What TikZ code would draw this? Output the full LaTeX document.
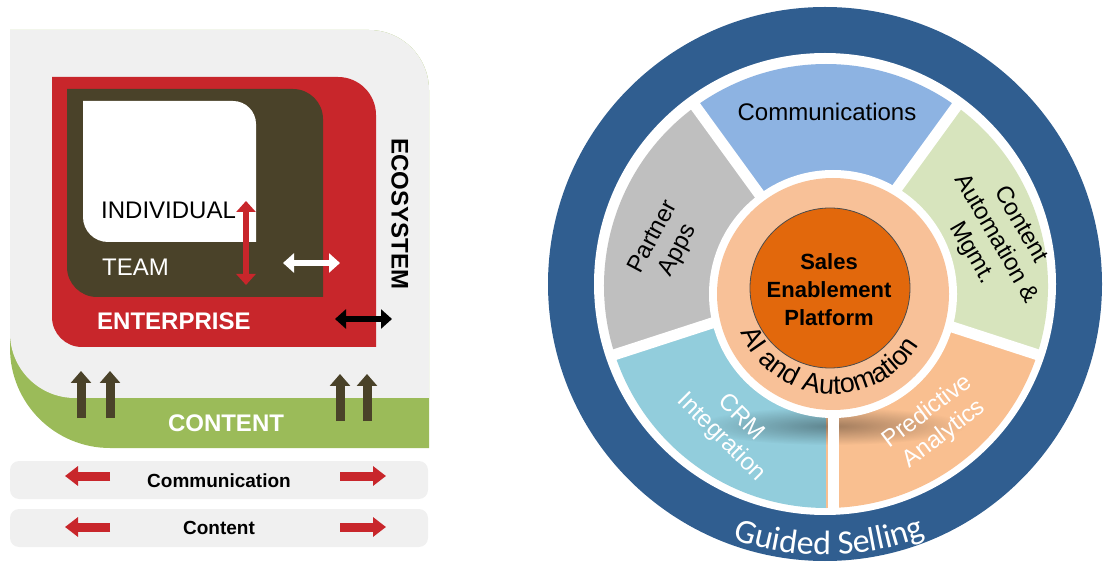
\documentclass[tikz,border=0pt]{standalone}
\usepackage{fontspec}
\setmainfont{Liberation Sans}
\newfontfamily\guidedfont{Carlito}
\usetikzlibrary{arrows.meta}
\usetikzlibrary{decorations.text}
\usetikzlibrary{fadings}
\usetikzlibrary{positioning}

\definecolor{ecogray}{HTML}{F0F0F0}
\definecolor{entred}{HTML}{C8262B}
\definecolor{teamolive}{HTML}{4A4229}
\definecolor{feedgreen}{HTML}{9BBB59}
\definecolor{ringblue}{HTML}{305E90}
\definecolor{commblue}{HTML}{8DB3E2}
\definecolor{cntgreen}{HTML}{D7E4BD}
\definecolor{predpeach}{HTML}{F9BF90}
\definecolor{crmcyan}{HTML}{92CDDC}
\definecolor{partgray}{HTML}{BFBFBF}
\definecolor{aipeach}{HTML}{F8C198}
\definecolor{coreorange}{HTML}{E2680C}

% soft shadow under the inner ring
\tikzfading[name=shadowfade,inner color=transparent!0,outer color=transparent!100]

\begin{document}
\begin{tikzpicture}[x=1pt,y=1pt,
  fatarrow/.style={line width=6pt,{Triangle[length=11pt,width=19pt]}-{Triangle[length=11pt,width=19pt]}},
  feedarrow/.style={teamolive,line width=9pt,-{Triangle[length=12pt,width=20pt]}},
  bararrow/.style={entred,line width=9pt,-{Triangle[length=13pt,width=19pt]}},
  lbl/.style={inner sep=0pt,font=\fontsize{24}{28}\selectfont},
  boldlbl/.style={inner sep=0pt,font=\fontsize{24}{28}\selectfont\bfseries},
  barlbl/.style={inner sep=0pt,font=\fontsize{19}{22}\selectfont\bfseries},
  wedgelbl/.style={inner sep=0pt,align=center,font=\fontsize{24}{28}\selectfont}]
  \useasboundingbox (0,0) rectangle (1109,571);

  % ---- left panel: ecosystem / enterprise / team / individual
  \fill[feedgreen] (10,541) -- (369,541) arc[start angle=90,end angle=0,radius=60]
    -- (429,123) -- (110,123) arc[start angle=270,end angle=180,radius=100] -- cycle;
  \fill[ecogray] (10,541) -- (369,541) arc[start angle=90,end angle=0,radius=60]
    -- (429,173) -- (75,173) arc[start angle=270,end angle=180,radius=65] -- cycle;
  \fill[entred] (52,494) -- (338,494) arc[start angle=90,end angle=0,radius=38]
    -- (376,224) -- (82,224) arc[start angle=270,end angle=180,radius=30] -- cycle;
  \fill[teamolive] (67,482) -- (293,482) arc[start angle=90,end angle=0,radius=30]
    -- (323,274) -- (97,274) arc[start angle=270,end angle=180,radius=30] -- cycle;
  \fill[white] (83,470) -- (233,470) arc[start angle=90,end angle=0,radius=23]
    -- (256,329) -- (108,329) arc[start angle=270,end angle=180,radius=25] -- cycle;

  \node[lbl,anchor=west] (indiv) at (101,361) {INDIVIDUAL};
  \node[lbl,anchor=west,text=white] (team) at (102,304) {TEAM};
  \node[boldlbl,anchor=west,text=white] (enterp) at (97,250) {ENTERPRISE};
  \node[boldlbl,rotate=-90] (ecosys) at (400,357) {ECOSYSTEM};
  \node[boldlbl,text=white] (content) at (226,148) {CONTENT};

  \coordinate (iu) at (246,370);
  \coordinate (id) at (246,286);
  \coordinate (tl) at (283,308);
  \coordinate (tr) at (340,308);
  \coordinate (el) at (335,252);
  \coordinate (er) at (392,252);
  \draw[fatarrow,entred] (id) -- (iu);
  \draw[fatarrow,white] (tl) -- (tr);
  \draw[fatarrow,black] (el) -- (er);

  % content feeding upwards
  \foreach \x/\b in {81/153,110/153,340/150,367/150}
    \draw[feedarrow] (\x,\b) -- ++(0,47);

  % ---- legend bars
  \fill[ecogray,rounded corners=9] (10,72) rectangle (428,110);
  \fill[ecogray,rounded corners=9] (10,24) rectangle (428,62);
  \node[barlbl] (comm) at (219,90) {Communication};
  \node[barlbl] (cont) at (219,43) {Content};
  \foreach \y in {95,44}{
    \draw[bararrow] (110,\y) -- (65,\y);
    \draw[bararrow] (340,\y) -- (386,\y);
  }

  % ---- right panel: sales enablement wheel
  \coordinate (hub) at (826,285);
  \fill[ringblue] (825,287) circle[radius=277];
  \fill[white] (825,287) circle[radius=231];
  \begin{scope}[shift={(hub)}]
    \fill[commblue] (0,0) -- (54:222) arc[start angle=54,end angle=126,radius=222] -- cycle;
    \fill[partgray] (0,0) -- (126:222) arc[start angle=126,end angle=198,radius=222] -- cycle;
    \fill[crmcyan] (0,0) -- (198:222) arc[start angle=198,end angle=270,radius=222] -- cycle;
    \fill[predpeach] (0,0) -- (270:222) arc[start angle=270,end angle=342,radius=222] -- cycle;
    \fill[cntgreen] (0,0) -- (342:222) arc[start angle=342,end angle=414,radius=222] -- cycle;
    \fill[black,opacity=.35,path fading=shadowfade] (5,-140) ellipse[x radius=135,y radius=19];
    \foreach \a in {54,126,198,342}
      \draw[white,line width=11pt] (0,0) -- (\a:228);
    \draw[white,line width=11pt] (7,0) -- (7,-228);
  \end{scope}

  \fill[white] (833,277) circle[radius=124];
  \fill[aipeach] (833,277) circle[radius=116];
  \fill[coreorange,draw=black!70,line width=.8pt] (830,283) circle[radius=80];
  \node[inner sep=0pt,align=center,font=\fontsize{22}{28}\selectfont\bfseries] (sep) at (829,281)
    {Sales\\Enablement\\Platform};
  \path[decorate,decoration={text along path,text align=center,
      text={|\fontsize{27}{27}\selectfont|AI and Automation}}]
    (833,277) ++(196:100) arc[start angle=196,end angle=336,radius=100];

  \node[wedgelbl] (commlbl) at (827,459) {Communications};
  \node[wedgelbl,rotate=62] (partlbl) at (666,327) {Partner\\Apps};
  \node[wedgelbl,rotate=-60] (cntlbl) at (996,332) {Content\\Automation \&\\Mgmt.};
  \node[wedgelbl,rotate=37,text=white] (predlbl) at (936,148) {Predictive\\Analytics};
  \node[wedgelbl,rotate=-45,text=white] (crmlbl) at (731,143) {CRM\\Integration};

  \path[decorate,decoration={text along path,text align=center,text color=white,
      text={|\guidedfont\fontsize{34}{34}\selectfont|Guided Selling}}]
    (825,287) ++(239:271) arc[start angle=239,end angle=303,radius=271];
\end{tikzpicture}
\end{document}
